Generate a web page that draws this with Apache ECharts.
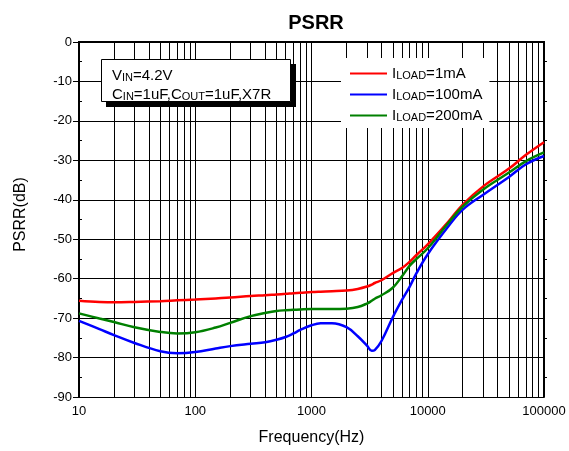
<!DOCTYPE html>
<html>
<head>
<meta charset="utf-8">
<script src="https://cdn.jsdelivr.net/npm/echarts@6/dist/echarts.min.js"></script>
<style>
html,body{margin:0;padding:0;background:#fff;}
#chart{width:569px;height:451px;}
</style>
</head>
<body>
<div id="chart"></div>
<script>
// ---- data ----
var freqHz = [10, 15, 20, 30, 50, 70, 100, 150, 200, 300, 400, 500, 600, 700, 800, 1000, 1200, 1500, 2000, 2500, 3000, 3300, 3500, 4000, 5000, 6000, 7000, 8000, 10000, 15000, 20000, 30000, 50000, 70000, 100000];
var psrr1mA   = [-65.6, -65.9, -66.0, -65.9, -65.7, -65.5, -65.3, -65.0, -64.8, -64.4, -64.2, -64.0, -63.85, -63.7, -63.6, -63.4, -63.3, -63.2, -63.0, -62.6, -62.0, -61.5, -61.1, -60.4, -58.6, -57.3, -55.7, -54.0, -51.3, -45.6, -41.2, -36.6, -32.1, -28.6, -25.4];
var psrr100mA = [-70.7, -72.8, -74.3, -76.3, -78.4, -78.9, -78.6, -77.7, -77.1, -76.5, -76.1, -75.5, -74.8, -73.9, -73.0, -71.8, -71.3, -71.3, -72.3, -74.6, -77.0, -78.3, -78.1, -75.8, -69.8, -65.4, -62.0, -58.6, -53.8, -46.8, -42.5, -38.7, -34.2, -31.0, -28.9];
var psrr200mA = [-68.8, -70.1, -71.0, -72.3, -73.5, -73.9, -73.6, -72.4, -71.2, -69.5, -68.7, -68.2, -68.0, -67.9, -67.8, -67.7, -67.7, -67.7, -67.6, -67.2, -66.3, -65.6, -65.1, -64.2, -62.3, -59.4, -56.7, -55.0, -52.3, -45.9, -41.7, -37.4, -33.1, -30.2, -28.0];
var seriesNames = ['ILOAD=1mA', 'ILOAD=100mA', 'ILOAD=200mA'];
var yTicks = [0, -10, -20, -30, -40, -50, -60, -70, -80, -90];
var xTickLabels = [10, 100, 1000, 10000, 100000];
var decades = [10, 100, 1000, 10000];
var minorMultipliers = [2, 3, 4, 5, 6, 7, 8, 9];

function pairs(xs, ys) { return xs.map(function (x, i) { return [x, ys[i]]; }); }
var minorGrid = [];
decades.forEach(function (d) { minorMultipliers.forEach(function (m) { minorGrid.push({ xAxis: d * m }); }); });

var FONT = 'Liberation Sans, Arial, sans-serif';
var colors = ['#ff0000', '#0000ff', '#008000'];
var chart = echarts.init(document.getElementById('chart'), null, { renderer: 'canvas' });

var richMain = {
  a: { fontSize: 15, fontFamily: FONT, color: '#000', lineHeight: 15, verticalAlign: 'bottom' },
  s: { fontSize: 11, fontFamily: FONT, color: '#000', lineHeight: 15, verticalAlign: 'bottom' }
};

var lineSeries = [psrr1mA, psrr100mA, psrr200mA].map(function (vals, i) {
  return {
    name: seriesNames[i],
    type: 'line',
    data: pairs(freqHz, vals),
    symbol: 'none',
    smooth: 0.4,
    lineStyle: { color: colors[i], width: 2.5 },
    itemStyle: { color: colors[i] },
    z: 5
  };
});

var option = {
  animation: false,
  backgroundColor: '#fff',
  textStyle: { fontFamily: FONT },
  title: {
    text: 'PSRR', left: 311, top: 8, textAlign: 'center',
    textStyle: { fontFamily: FONT, fontSize: 20, fontWeight: 'bold', color: '#000' }
  },
  grid: { left: 79, right: 25, top: 42, bottom: 53, containLabel: false },
  legend: {
    data: seriesNames,
    orient: 'vertical',
    left: 341, top: 58,
    padding: [8, 7, 5, 8],
    itemGap: 6,
    itemWidth: 37,
    itemHeight: 14,
    backgroundColor: '#fff',
    z: 10,
    itemStyle: { opacity: 0 },
    formatter: function (name) { return '{a|I}{s|LOAD}{a|' + name.slice(5) + '}'; },
    textStyle: { rich: richMain, fontFamily: FONT, fontSize: 15 }
  },
  xAxis: [{
    type: 'log', logBase: 10, min: 10, max: 100000, position: 'bottom',
    name: 'Frequency(Hz)', nameLocation: 'middle', nameGap: 33,
    nameTextStyle: { fontFamily: FONT, fontSize: 16, color: '#000' },
    axisLine: { show: true, lineStyle: { color: '#000', width: 2 } },
    axisTick: { show: false },
    axisLabel: { fontFamily: FONT, fontSize: 13, color: '#000', margin: 8,
      formatter: function (v) { return String(Math.round(v)); } },
    splitLine: { show: true, lineStyle: { color: '#000', width: 1 } }
  }, {
    type: 'log', logBase: 10, min: 10, max: 100000, position: 'top',
    axisLine: { show: true, lineStyle: { color: '#000', width: 2 } },
    axisTick: { show: false }, axisLabel: { show: false }, splitLine: { show: false }
  }],
  yAxis: [{
    type: 'value', min: -90, max: 0, interval: 10, position: 'left',
    name: 'PSRR(dB)', nameLocation: 'middle', nameGap: 50, nameRotate: 90,
    nameTextStyle: { fontFamily: FONT, fontSize: 16, color: '#000', padding: [0, 0, 0, 10] },
    axisLine: { show: true, lineStyle: { color: '#000', width: 2 } },
    axisTick: { show: true, inside: false, length: 6, lineStyle: { color: '#000', width: 1 } },
    axisLabel: { fontFamily: FONT, fontSize: 13, color: '#000', margin: 7,
      formatter: function (v) { return yTicks.indexOf(v) >= 0 ? String(v) : ''; } },
    splitLine: { show: true, lineStyle: { color: '#000', width: 1 } }
  }, {
    type: 'value', min: -90, max: 0, interval: 10, position: 'left', offset: 0,
    axisLine: { show: false },
    axisTick: { show: false, inside: true },
    minorTick: { show: true, splitNumber: 2, length: 3, lineStyle: { color: '#000', width: 1 } },
    axisLabel: { show: false }, splitLine: { show: false }
  }, {
    type: 'value', min: -90, max: 0, interval: 10, position: 'right',
    axisLine: { show: true, lineStyle: { color: '#000', width: 2 } },
    axisTick: { show: false, inside: false },
    minorTick: { show: true, splitNumber: 2, length: 3, lineStyle: { color: '#000', width: 1 } },
    axisLabel: { show: false }, splitLine: { show: false }
  }],
  series: [{
    name: 'grid', type: 'line', data: [], z: 1,
    markLine: {
      silent: true, symbol: ['none', 'none'], label: { show: false },
      lineStyle: { color: '#000', width: 1, type: 'solid' },
      emphasis: { disabled: true },
      data: minorGrid
    }
  }].concat(lineSeries),
  graphic: [
    { type: 'rect', shape: { x: 106, y: 64, width: 190, height: 43 }, style: { fill: '#000' }, z: 20 },
    { type: 'rect', shape: { x: 101.5, y: 59.5, width: 189, height: 42 }, style: { fill: '#fff', stroke: '#000', lineWidth: 1 }, z: 21 },
    { type: 'text', x: 112, y: 64, z: 22,
      style: {
        text: '{a|V}{s|IN}{a|=4.2V}\n{a|C}{s|IN}{a|=1uF,C}{s|OUT}{a|=1uF,X7R}',
        rich: {
          a: { fontSize: 15, fontFamily: FONT, fill: '#000', lineHeight: 19, verticalAlign: 'bottom' },
          s: { fontSize: 11, fontFamily: FONT, fill: '#000', lineHeight: 19, verticalAlign: 'bottom' }
        }
      }
    }
  ]
};
chart.setOption(option);
</script>
</body>
</html>
